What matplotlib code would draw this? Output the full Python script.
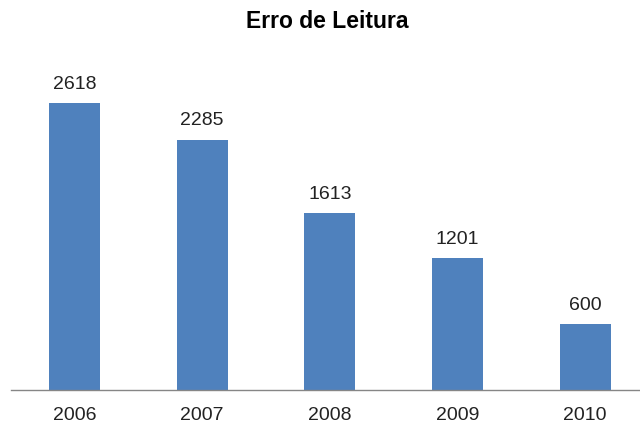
import matplotlib.pyplot as plt

# dados
anos = ["2006", "2007", "2008", "2009", "2010"]
erros = [2618, 2285, 1613, 1201, 600]

plt.rcParams['font.family'] = ['Liberation Sans', 'DejaVu Sans']

fig = plt.figure(figsize=(6.4, 4.25), dpi=100)
# eixo posicionado em pixels: base em y=390, topo em y=50
ax = fig.add_axes([10.6 / 640, 35 / 425, 638.5 / 640, 340 / 425])

x = range(len(anos))
barras = ax.bar(x, erros, width=0.4, color='#4F81BD')
ax.set_xlim(-0.5, len(anos) - 0.5)
ax.set_ylim(0, 2618 * 340 / 287)

for b, v in zip(barras, erros):
    ax.text(b.get_x() + b.get_width() / 2, v + 95, str(v),
            ha='center', va='bottom', fontsize=14, color='#222222')

ax.set_xticks(list(x))
ax.set_xticklabels(anos, fontsize=14, color='#222222')
ax.tick_params(axis='x', length=0, pad=12)
ax.set_yticks([])
for s in ['top', 'right', 'left']:
    ax.spines[s].set_visible(False)
ax.spines['bottom'].set_color('#868686')
ax.spines['bottom'].set_linewidth(1)

fig.text(327 / 640, 1 - 22 / 425, "Erro de Leitura", ha='center', va='center',
         fontsize=16.5, fontweight='bold')

fig.savefig("out.png", dpi=100)
